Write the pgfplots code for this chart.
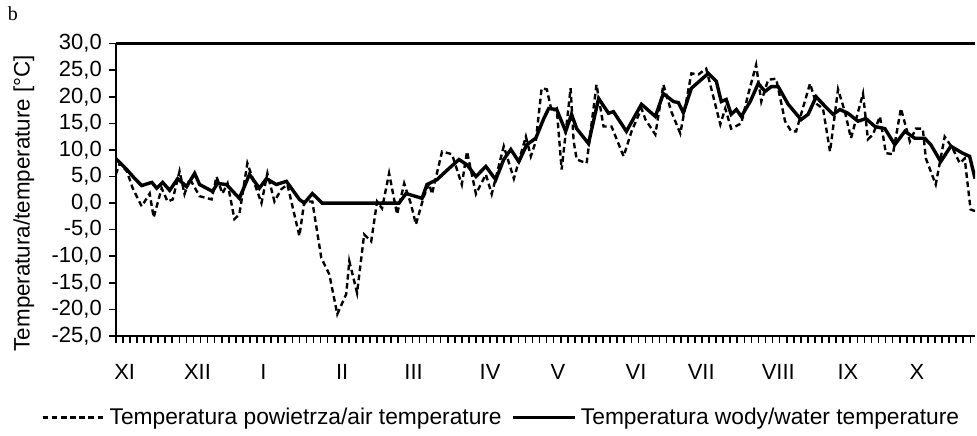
\documentclass[border=0pt]{standalone}
\usepackage{pgfplots}
\pgfplotsset{compat=1.18}
\usepackage{fontspec}
\setmainfont{Liberation Sans}
\newfontfamily\seriffont{Liberation Serif}

\begin{document}
\begin{tikzpicture}
\begin{axis}[
  scale only axis,
  width=430.5pt, height=146.5pt,
  xmin=0, xmax=365, ymin=-25, ymax=30,
  axis x line*=box, axis y line*=left,
  xtick pos=bottom, ytick pos=left,
  ytick={-25,-20,...,30},
  xtick={0,3,...,363},
  xticklabels={},
  extra x ticks={3.8,34.7,62.7,96.2,126.5,159,187.8,221,248.7,281.4,311,340.3},
  extra x tick labels={XI,XII,I,II,III,IV,V,VI,VII,VIII,IX,X},
  extra x tick style={tick style={draw=none},
    xticklabel style={yshift=-7pt}},
  tick align=outside,
  major tick length=3.5pt,
  tick style={black, line width=0.8pt},
  axis line style={black, line width=1.2pt, -},
  every tick label/.append style={font=\fontsize{11}{13}\selectfont},
  /pgf/number format/.cd, fixed, fixed zerofill, precision=1, use comma,
  assume math mode=true,
  /pgfplots/.cd,
  ylabel={Temperatura/temperature [°C]},
  ylabel style={at={(axis description cs:-0.107,0.454)}, anchor=center,
    font=\fontsize{11.2}{13}\selectfont},
  legend style={at={(axis description cs:-0.094,-0.278)}, anchor=west,
    draw=none, fill=none, font=\fontsize{11.4}{13}\selectfont,
    /tikz/every even column/.append style={column sep=3pt},
    /tikz/every odd column/.append style={inner sep=1pt}},
  legend columns=2,
  legend cell align=left,
  legend image code/.code={\draw[#1] (0pt,0pt) -- (31pt,0pt);},
]
% air temperature
\addplot[black, line width=1.2pt, dash pattern=on 2.8pt off 1.8pt] coordinates {
(0,5.4)(1.7,7.5)(4.7,6.0)(7.2,2.8)(11,-0.6)(14.4,1.8)(16.1,-2.7)(19.5,2.8)
(22,0.3)(24.2,0.7)(27.1,6.0)(29.2,1.7)(31.4,4.6)(35.6,1.3)(40.7,0.7)(42.8,5.0)
(45.3,1.8)(47.5,3.7)(50.4,-3.0)(52.5,-2.1)(55.9,7.5)(58.9,3.7)(61.9,0)(64.4,5.6)
(67.4,0.3)(70.3,2.6)(72.9,3.5)(78,-6.2)(80.1,0.3)(83.5,0.3)(87.3,-10.3)(90.7,-13.4)
(94.1,-20.9)(97.9,-17.1)(99.2,-10.9)(102.5,-16.9)(105.5,-5.9)(108.5,-7.2)(111,0.3)
(113.1,-1.0)(116.1,5.6)(119.5,-2.1)(122.5,3.7)(125.4,-0.2)(127.5,-4.0)(130.9,1.3)
(133.1,3.7)(134.3,1.7)(138.6,9.7)(142.8,9.2)(147,3.5)(149.2,9.7)(153,1.7)(157.2,5.4)
(159.7,1.7)(164.8,10.7)(169.1,4.6)(174.2,12.5)(176.3,8.8)(178.4,11.6)(180.9,21.6)
(183.1,21.4)(185.2,17.2)(187.3,17.8)(189.4,6.3)(193.2,21.6)(194.5,11.6)(195.8,8.2)
(200,7.5)(204.2,22.3)(207.2,14.4)(210.6,14.4)(215.7,8.8)(219.1,13.5)(223.3,17.8)
(225,15.7)(229.2,12.9)(232.6,22.3)(236,17.2)(239.8,13.1)(244.5,24.4)(247.5,24.2)
(250.8,25.3)(256.8,14.8)(258.9,17.8)(261.4,14.0)(265.7,15.0)(268.6,20.4)(272,26.0)
(274.2,19.1)(277.1,23.2)(280.5,23.4)(284.3,15.4)(286.9,13.5)(289,13.5)(294.9,22.5)
(297.5,18.7)(300.4,17.8)(303.4,9.7)(306.8,21.4)(309.7,17.2)(312.3,12.2)(317.4,20.6)
(319.5,12.0)(321.6,12.9)(324.6,16.3)(327.1,9.4)(330.1,9.2)(333.5,17.8)(337.3,11.6)
(339.8,14.0)(342.8,14.0)(344.1,8.4)(348.3,3.5)(352.1,12.5)(355.5,10.3)(358.5,7.5)
(360.6,8.4)(363.1,-1.2)(365,-1.5)
};
% water temperature
\addplot[black, line width=1.7pt] coordinates {
(0,8.4)(4.7,6.3)(8.1,4.6)(11,3.3)(15.3,3.9)(17.4,2.8)(19.9,3.9)(22.9,2.4)
(26.3,4.6)(30.1,3.1)(33.5,5.6)(35.6,3.5)(41.1,2.2)(43.2,3.7)(47,3.5)(52.5,0.9)
(56.8,5.4)(61,2.8)(64,4.6)(68.2,3.5)(72.5,4.1)(78,0.7)(80.1,0)(83.5,1.8)(87.7,0)
(120.3,0)(123.3,1.8)(130.1,0.9)(132.2,3.5)(136.4,4.4)(141.5,6.5)(145.8,8.2)
(149.2,7.2)(153,5.0)(157.2,6.9)(161.4,4.4)(164.8,8.2)(167.8,10.1)(171.2,7.8)
(174.6,11.0)(178.4,12.2)(181.8,15.9)(183.9,17.8)(187.3,17.6)(191.1,13.5)(193.6,16.7)
(195.8,14.0)(200.8,11.2)(205.1,19.7)(209.3,16.9)(211.4,17.2)(216.9,13.5)(223.3,18.6)
(229.2,16.3)(232.6,20.6)(236.9,19.1)(239,18.9)(241.1,17.0)(244.5,21.6)(251.7,24.4)
(255.1,22.9)(257.2,19.1)(259.3,19.5)(261.4,16.7)(263.6,17.6)(265.7,16.3)(269.5,19.1)
(272.9,22.5)(275.8,21.0)(278.4,21.9)(281.4,21.9)(285.6,18.6)(291.1,15.7)(294.1,16.7)
(297.5,20.0)(301.3,18.2)(304.7,16.7)(307.6,17.6)(311,16.9)(315.3,15.4)(318.6,15.9)
(322.5,14.4)(326.7,14.0)(330.9,11.0)(335.2,13.5)(339.4,12.2)(343.6,12.2)(346.2,11.0)
(350.4,7.8)(354.7,10.7)(359.7,9.4)(362.7,8.8)(365,4.6)
};
\legend{Temperatura powietrza/air temperature, Temperatura wody/water temperature}
\end{axis}
\node[font=\seriffont\fontsize{10}{12}\selectfont] at (-51.5pt,161.5pt) {b};
\path (-58pt,-48pt) rectangle (430.5pt,167.5pt);
\end{tikzpicture}
\end{document}
